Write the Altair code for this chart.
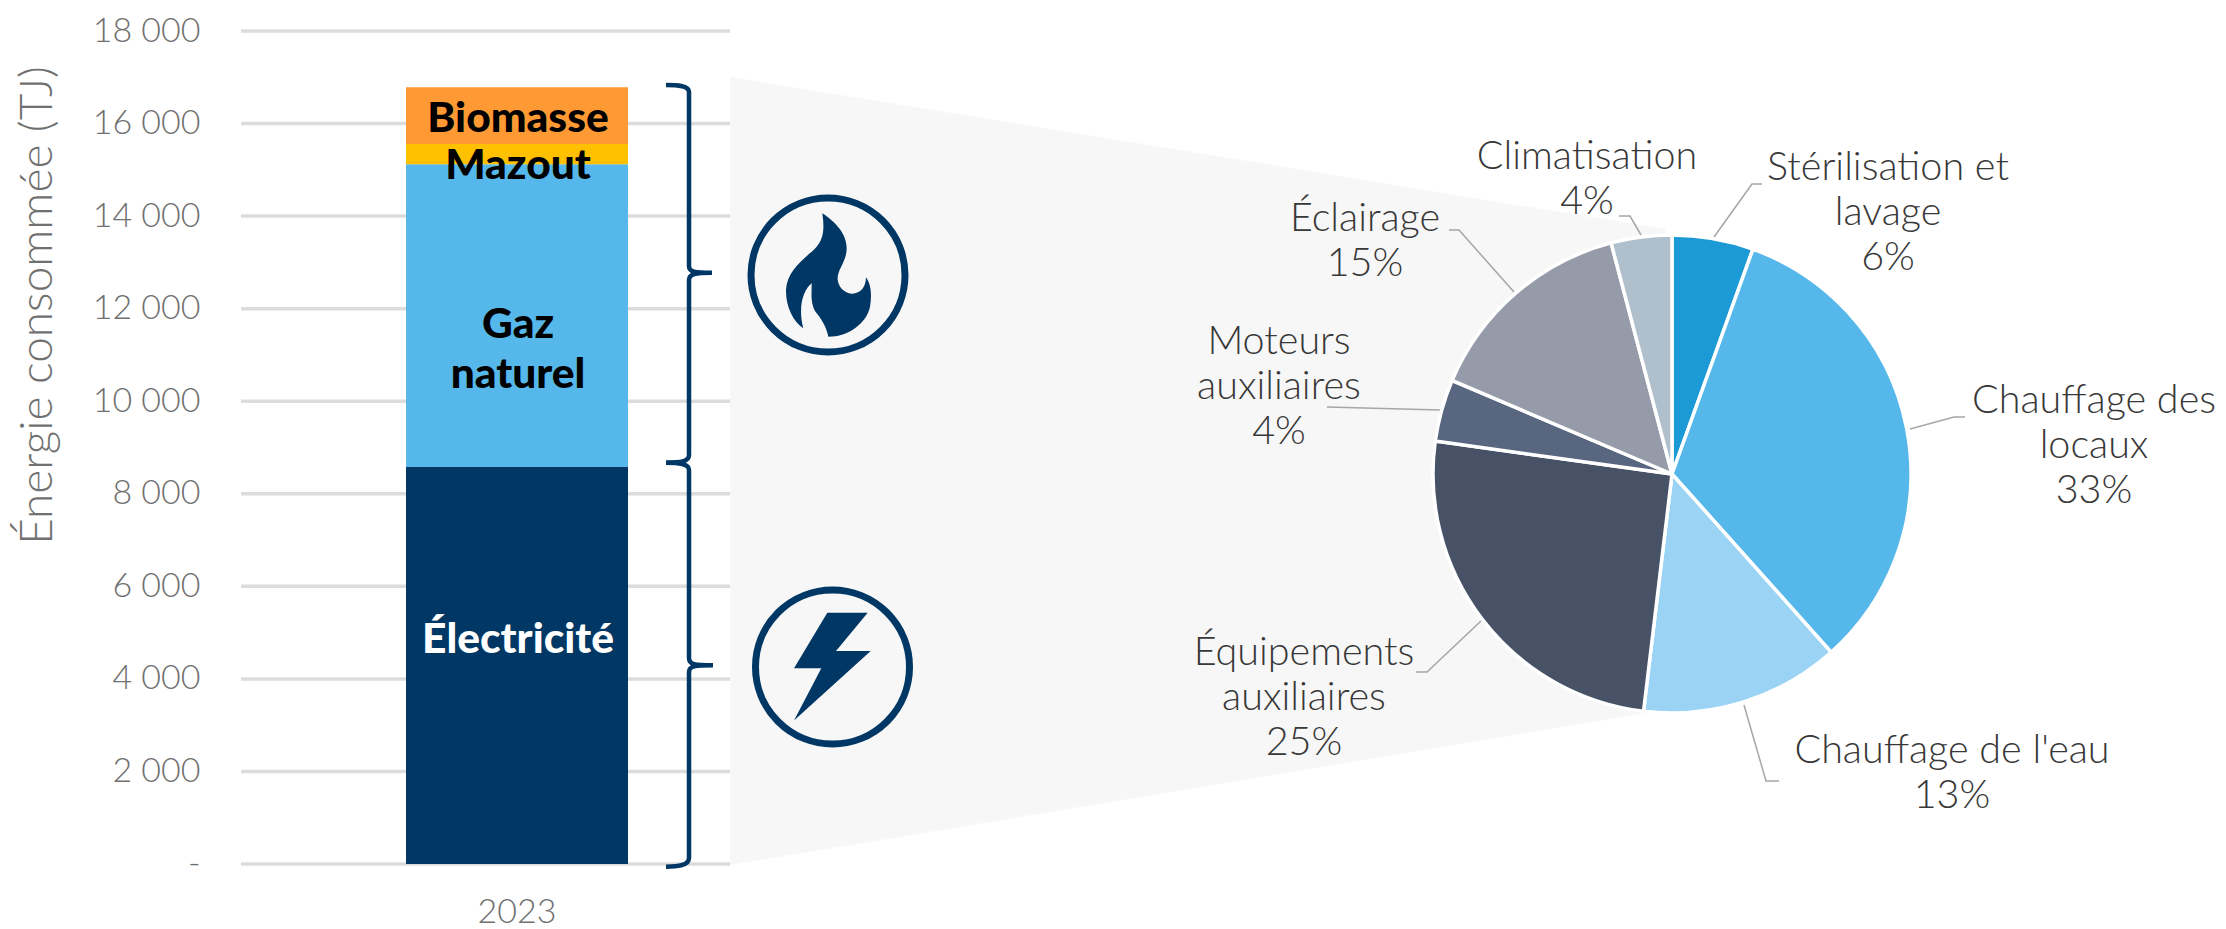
import altair as alt
import pandas as pd

# ---- data ----
bar_sources = ["Électricité", "Gaz naturel", "Mazout", "Biomasse"]
bar_values = [8580, 6540, 440, 1227]
bar_colors = ["#003764", "#56B7EA", "#FFC000", "#FF9933"]
year = ["2023"]
y_ticks = [0, 2000, 4000, 6000, 8000, 10000, 12000, 14000, 16000, 18000]

pie_names = ["Stérilisation et lavage", "Chauffage des locaux", "Chauffage de l'eau",
             "Équipements auxiliaires", "Moteurs auxiliaires", "Éclairage", "Climatisation"]
pie_values = [5.5, 32.9, 13.5, 25.3, 4.2, 14.5, 4.1]
pie_colors = ["#1C9AD6", "#56B7EA", "#9AD3F3", "#475266", "#586680", "#969BA9", "#B0BFCC"]
pie_labels = ["Stérilisation et\nlavage\n6%", "Chauffage des\nlocaux\n33%", "Chauffage de l'eau\n13%",
              "Équipements\nauxiliaires\n25%", "Moteurs\nauxiliaires\n4%", "Éclairage\n15%", "Climatisation\n4%"]

# ---- layout (page pixels) ----
OX, OY = 241, 31
NAVY = "#003764"
FONT = "Lato"
label_pos = [(1888, 168), (2094, 401), (1952, 751), (1304, 653), (1279, 342), (1365, 219), (1587, 157)]
leaders = [
    [(1714, 237), (1752, 184), (1762, 184)],
    [(1910, 429), (1954, 417), (1965, 417)],
    [(1744, 705), (1766, 781), (1779, 781)],
    [(1481, 621), (1427, 672), (1416, 672)],
    [(1440, 410), (1327, 407)],
    [(1514, 292), (1459, 230), (1449, 230)],
    [(1641, 235), (1630, 216), (1619, 216)],
]
bar_label_pos = [("Électricité", 518, 640, "white"), ("Biomasse", 518, 119, "black"),
                 ("Mazout", 518, 166, "black"), ("Gaz\nnaturel", 518, 325, "black")]
PIE_CX, PIE_CY, PIE_R = 1672, 474, 239


def px(x):
    return x - OX


def py(y):
    return y - OY


# background funnel
funnel = alt.Chart(pd.DataFrame({
    "x": [px(730), px(1665)], "t": [py(77), py(229)], "b": [py(865), py(710)],
})).mark_area(color="#F7F7F7").encode(
    x=alt.X("x:Q", scale=None, axis=None),
    y=alt.Y("t:Q", scale=None, axis=None),
    y2="b:Q",
)

y_scale = alt.Scale(domain=[0, 18000])
y_axis = alt.Axis(values=y_ticks, grid=False, ticks=False, domain=False, labelFont=FONT,
                  labelFontSize=34, labelColor="#707070", labelPadding=41, labelFontWeight=300,
                  labelExpr="datum.value == 0 ? '-\u00a0\u00a0\u00a0\u00a0\u00a0' : replace(format(datum.value, ','), ',', ' ')",
                  title="Énergie consommée (TJ)", titleFont=FONT, titleFontSize=46,
                  titleFontWeight=300, titleColor="#707070", titleX=37 - OX, titleY=305 - OY,
                  titleAngle=270, titleBaseline="middle", titleAlign="center")
grid = alt.Chart(pd.DataFrame({"v": y_ticks})).mark_rule(color="#DCDCDC", strokeWidth=3.5).encode(
    y=alt.Y("v:Q", scale=y_scale, axis=y_axis),
    x=alt.value(0),
    x2=alt.value(489),
)

bar_df = pd.DataFrame({"src": bar_sources, "val": bar_values, "i": range(4), "year": year * 4})
bars = alt.Chart(bar_df).mark_bar().encode(
    x=alt.X("year:N", scale=alt.Scale(range=[165, 387], paddingInner=0, paddingOuter=0),
            axis=alt.Axis(title=None, ticks=False, domain=False, labelAngle=0, labelFont=FONT,
                          labelFontSize=34, labelColor="#707070", labelPadding=31, grid=False,
                          labelFontWeight=300)),
    y=alt.Y("val:Q", stack="zero", scale=y_scale, axis=y_axis),
    color=alt.Color("src:N", scale=alt.Scale(domain=bar_sources, range=bar_colors), legend=None),
    order=alt.Order("i:Q"),
)

layers = [funnel, grid, bars]

for txt, x, y, col in bar_label_pos:
    layers.append(alt.Chart(pd.DataFrame({"t": [txt]})).mark_text(
        font=FONT, fontSize=42.5, fontWeight=900, color=col, lineBreak="\n", lineHeight=50,
        align="center", baseline="middle",
    ).encode(text="t:N", x=alt.value(px(x)), y=alt.value(py(y))))

pie_df = pd.DataFrame({"name": pie_names, "v": pie_values, "i": range(7)})
pie = alt.Chart(pie_df).mark_arc(outerRadius=PIE_R, stroke="white", strokeWidth=3.5).encode(
    theta=alt.Theta("v:Q", stack=True),
    color=alt.Color("name:N", scale=alt.Scale(domain=pie_names, range=pie_colors), legend=None),
    order=alt.Order("i:Q"),
    x=alt.value(px(PIE_CX)),
    y=alt.value(py(PIE_CY)),
)
layers.append(pie)

rows = []
for k, pts in enumerate(leaders):
    for n, (x, y) in enumerate(pts):
        rows.append({"k": k, "n": n, "x": px(x), "y": py(y)})
leader_layer = alt.Chart(pd.DataFrame(rows)).mark_line(color="#A6A6A6", strokeWidth=1.5).encode(
    x=alt.X("x:Q", scale=None, axis=None),
    y=alt.Y("y:Q", scale=None, axis=None),
    detail="k:N",
    order="n:Q",
)
layers.append(leader_layer)

for lab, (x, y) in zip(pie_labels, label_pos):
    layers.append(alt.Chart(pd.DataFrame({"t": [lab]})).mark_text(
        font=FONT, fontSize=39.5, fontWeight=300, color="#383838", lineBreak="\n", lineHeight=45,
        align="center", baseline="middle",
    ).encode(text="t:N", x=alt.value(px(x)), y=alt.value(py(y))))


# braces
def abs_path(cmds):
    out = []
    for c in cmds:
        if isinstance(c, str):
            out.append(c)
        else:
            out.append(f"{px(c[0])} {py(c[1])}")
    return " ".join(out)


brace1 = abs_path(["M", (666, 85), "C", (676, 85), (689, 85), (689, 92), "L", (689, 266),
                   "C", (689, 272), (695, 272.7), (712, 272.7), "C", (695, 272.7), (689, 274), (689, 280),
                   "L", (689, 455), "C", (689, 462), (680, 462.7), (666, 462.7)])
brace2 = abs_path(["M", (666, 462.7), "C", (680, 462.7), (689, 464), (689, 470), "L", (689, 658),
                   "C", (689, 665), (695, 665.3), (713, 665.3), "C", (695, 665.3), (689, 666), (689, 672),
                   "L", (689, 858), "C", (689, 866), (676, 866.7), (666, 866.7)])
one = pd.DataFrame({"a": [1]})
for p in (brace1, brace2):
    layers.append(alt.Chart(one).mark_point(
        shape=p, size=4, filled=False, stroke=NAVY, strokeWidth=4.5, opacity=1,
    ).encode(x=alt.value(0), y=alt.value(0)))

# icons
for cx, cy in [(828, 275), (832.5, 667)]:
    layers.append(alt.Chart(one).mark_point(
        shape="circle", size=154 * 154, filled=False, stroke=NAVY, strokeWidth=7, opacity=1,
    ).encode(x=alt.value(px(cx)), y=alt.value(py(cy))))


def flame_path():
    pts = ["M", (232, 70), "C", (270, 95), (305, 130), (305, 175), "C", (305, 215), (275, 240), (278, 270),
           "C", (282, 300), (310, 315), (330, 310), "C", (350, 305), (362, 290), (363, 262),
           "C", (380, 285), (380, 320), (375, 350), "C", (365, 400), (310, 440), (250, 440),
           "C", (245, 415), (235, 395), (215, 370), "C", (195, 345), (200, 310), (200, 280),
           "C", (175, 300), (158, 350), (175, 415), "C", (145, 395), (122, 350), (123, 300),
           "C", (125, 250), (165, 215), (200, 185), "C", (235, 155), (240, 125), (232, 70), "Z"]
    out = []
    for c in pts:
        out.append(c if isinstance(c, str) else f"{(c[0] - 249) / 3:.1f} {(c[1] - 255) / 3:.1f}")
    return " ".join(out)


bolt_path = "M -5.2 -54.2 L 35.2 -54.2 L 3.5 -16 L 38.2 -16 L -38.5 53.6 L -11.2 1.3 L -38.5 1.3 Z"

layers.append(alt.Chart(one).mark_point(
    shape=flame_path(), size=4, filled=True, fill=NAVY, opacity=1,
).encode(x=alt.value(px(828)), y=alt.value(py(275))))
layers.append(alt.Chart(one).mark_point(
    shape=bolt_path, size=4, filled=True, fill=NAVY, opacity=1,
).encode(x=alt.value(px(832.5)), y=alt.value(py(667))))

chart = alt.layer(*layers).resolve_scale(color="independent").properties(
    width=1977, height=833,
    autosize=alt.AutoSizeParams(type="none"),
    padding={"left": 233, "top": 23, "right": 0, "bottom": 65},
    background="white",
).configure_view(stroke=None)

chart.save("out.html", embed_options={"renderer": "svg", "actions": False})
